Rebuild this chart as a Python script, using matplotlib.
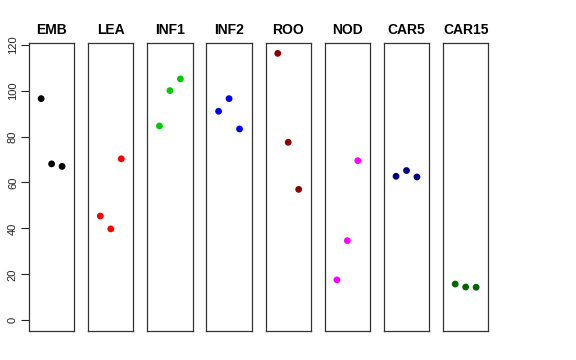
import matplotlib
matplotlib.use("Agg")
import matplotlib.pyplot as plt

categories = ["EMB", "LEA", "INF1", "INF2", "ROO", "NOD", "CAR5", "CAR15"]
emb = [96.5, 68.1, 67.0]
lea = [45.4, 39.8, 70.3]
inf1 = [84.6, 100.0, 105.1]
inf2 = [91.0, 96.5, 83.3]
roo = [116.2, 77.5, 57.0]
nod = [17.6, 34.7, 69.5]
car5 = [62.7, 65.2, 62.4]
car15 = [15.8, 14.5, 14.4]
series = [emb, lea, inf1, inf2, roo, nod, car5, car15]
colors = ["#000000", "#FF0000", "#00CD00", "#0000FF", "#8B0000", "#FF00FF", "#00008B", "#006400"]
yticks = [0, 20, 40, 60, 80, 100, 120]

plt.rcParams['font.family'] = ['Liberation Sans', 'DejaVu Sans']
fig = plt.figure(figsize=(5.76, 3.6), dpi=100)
W, H = 576.0, 360.0
left0 = 29.0
period = 59.15
pw = 45.2
top_px = 42.7
bot_px = 331.0
ymax = max(max(s) for s in series)
yr = ymax - 0
for i, (cat, vals, col) in enumerate(zip(categories, series, colors)):
    l = (left0 + period * i) / W
    ax = fig.add_axes([l, 1 - bot_px / H, pw / W, (bot_px - top_px) / H])
    xs = list(range(1, len(vals) + 1))
    ax.scatter(xs, vals, s=24, color=col, edgecolors='none', zorder=3)
    ax.set_xlim(-0.16, 4.16)
    ax.set_ylim(0 - 0.04 * yr, ymax + 0.04 * yr)
    ax.set_xticks([])
    for sp in ax.spines.values():
        sp.set_linewidth(0.9)
        sp.set_color('#333333')
    ax.set_title(cat, fontsize=10, fontweight='bold', pad=6)
    if i == 0:
        ax.set_yticks(yticks)
        ax.set_yticklabels([str(t) for t in yticks], rotation=90, va='center', fontsize=8)
        ax.tick_params(axis='y', length=5.5, width=0.8, pad=2.5, colors='#222222')
    else:
        ax.set_yticks([])

fig.savefig("out.png", dpi=100)
